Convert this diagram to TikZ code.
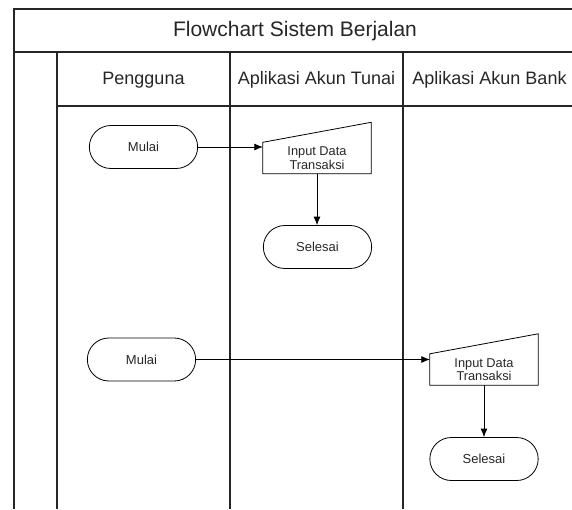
\documentclass[tikz,border=0pt]{standalone}
\usepackage{fontspec}
\setmainfont{Liberation Sans}
\usetikzlibrary{shapes.misc,arrows.meta}

\begin{document}
\begin{tikzpicture}[x=1pt,y=-1pt,
    lane/.style={line width=1.3pt, draw=black!85},
    title_node/.style={anchor=base, text=black!85, font=\fontsize{21}{24}\selectfont},
    head_node/.style={anchor=base, text=black!85, font=\fontsize{18}{20}\selectfont},
    term_node/.style={rounded rectangle, draw, line width=0.8pt, minimum width=115pt, minimum height=43pt, text=black!85, font=\fontsize{13}{14}\selectfont},
    input_node/.style={minimum width=108pt, minimum height=31pt, inner sep=0pt, align=center, text=black!85, font=\fontsize{12.8}{13.5}\selectfont},
    flow/.style={line width=0.8pt, -{Latex[length=8.5pt,width=7pt]}}]
    \clip (0,0) rectangle (572,509);
    % swimlanes
    \draw[lane] (14,509) -- (14,9) -- (576,9) -- (576,509);
    \draw[lane] (14,52) -- (576,52);
    \draw[lane] (57,106) -- (576,106);
    \foreach \x in {57,230,403}
        \draw[lane] (\x,52) -- (\x,509);
    \node[title_node] (t) at (295,36) {Flowchart Sistem Berjalan};
    \node[head_node] (h1) at (143.5,84) {Pengguna};
    \node[head_node] (h2) at (316.5,84) {Aplikasi Akun Tunai};
    \node[head_node] (h3) at (489.5,84) {Aplikasi Akun Bank};
    % flow
    \node[term_node] (m1) at (143.5,147) {Mulai};
    \node[input_node] (i1) at (317,158) {Input Data\\Transaksi};
    \node[term_node] (s1) at (317.5,247) {Selesai};
    \node[term_node] (m2) at (141.5,359.5) {Mulai};
    \node[input_node] (i2) at (484,369.5) {Input Data\\Transaksi};
    \node[term_node] (s2) at (484,459) {Selesai};
    \foreach \n in {i1,i2}
        \draw[line width=0.8pt] (\n.south west) -- (\n.south east) -- ([yshift=20pt]\n.north east) -- (\n.north west) -- cycle;
    \draw[flow] (m1.east) -- (m1.east -| i1.west);
    \draw[flow] (i1.south) -- (i1.south |- s1.north);
    \draw[flow] (m2.east) -- (m2.east -| i2.west);
    \draw[flow] (i2.south) -- (i2.south |- s2.north);
\end{tikzpicture}
\end{document}
